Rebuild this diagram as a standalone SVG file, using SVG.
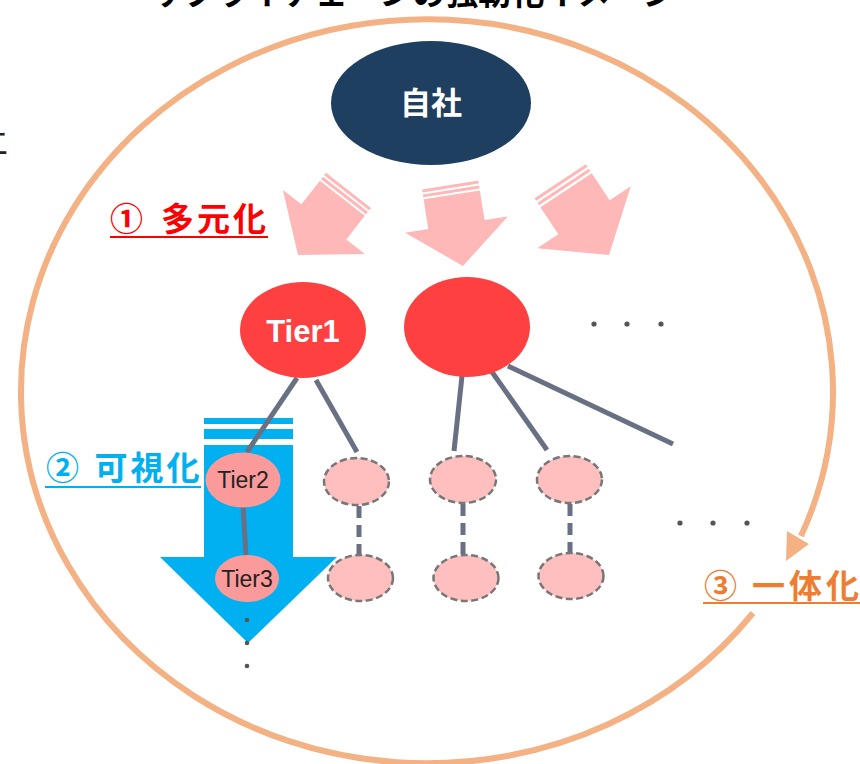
<svg xmlns="http://www.w3.org/2000/svg" width="860" height="764" viewBox="0 0 860 764">
<defs>
<style>
.jp{font-family:"Noto Sans CJK JP","Noto Sans",sans-serif;}
.lat{font-family:"Liberation Sans",Arial,sans-serif;}
.pink{fill:#FFB8B8;}
.conn{stroke:#697083;stroke-width:5;fill:none;}
.dconn{stroke:#697083;stroke-width:5;fill:none;stroke-dasharray:12 7;}
.dnode{fill:#FFBFBF;stroke:#777777;stroke-width:2.5;stroke-dasharray:7 3.5;}
.dot{fill:#555555;}
</style>
<g id="pinkArrowShape">
<polygon points="0,0 -52,-42 -28.5,-42 -28.5,-72 28.5,-72 28.5,-42 52,-42"/>
<rect x="-28.5" y="-77" width="57" height="3"/>
<rect x="-28.5" y="-82" width="57" height="3"/>
</g>
</defs>
<rect width="860" height="764" fill="#FFFFFF"/>

<!-- cut-off title -->
<text class="jp" x="150" y="5" font-size="33" font-weight="bold" fill="#000000">サプライチェーンの強靭化イメージ</text>
<!-- cut-off left fragment -->
<text class="jp" x="9" y="155" font-size="33" text-anchor="end" fill="#222222">エ</text>

<!-- big cycle arc -->
<g id="cycle">
<path d="M 753 613 A 406 372 0 1 1 801 536" fill="none" stroke="#F4B183" stroke-width="6"/>
<polygon points="786,561 809,544 787,531" fill="#F4B183"/>
</g>

<!-- pink arrows -->
<g id="pinkArrows" class="pink">
<use href="#pinkArrowShape" transform="translate(298,255) rotate(38)"/>
<use href="#pinkArrowShape" transform="translate(463,266) rotate(-9)"/>
<use href="#pinkArrowShape" transform="translate(609,255) rotate(-33.5) scale(1.08)"/>
</g>

<!-- blue arrow -->
<g id="blueArrow" fill="#00B0F0">
<rect x="204" y="418" width="89" height="6"/>
<rect x="204" y="429" width="89" height="10"/>
<polygon points="204,445 293,445 293,557 337,557 248,643 160,557 204,557"/>
</g>

<!-- connectors -->
<g id="connectors">
<line class="conn" x1="297" y1="378" x2="247" y2="452"/>
<line class="conn" x1="316" y1="380" x2="357" y2="452"/>
<line class="conn" x1="462" y1="376" x2="454" y2="451"/>
<line class="conn" x1="492" y1="372" x2="547" y2="450"/>
<line class="conn" x1="508" y1="366" x2="673" y2="444"/>
<line class="conn" x1="243" y1="505" x2="246" y2="556"/>
<line class="dconn" x1="359" y1="506" x2="359" y2="556"/>
<line class="dconn" x1="463" y1="504" x2="463" y2="556"/>
<line class="dconn" x1="570" y1="504" x2="570" y2="554"/>
</g>

<g id="jisha">
<ellipse cx="431" cy="103" rx="100" ry="62" fill="#1F3F61"/>
<text class="jp" x="431" y="114" font-size="31" font-weight="bold" fill="#FFFFFF" text-anchor="middle">自社</text>
</g>

<g id="tier1">
<ellipse cx="303" cy="330" rx="63" ry="48" fill="#FF4040"/>
<text class="lat" x="303" y="342" font-size="31" font-weight="bold" fill="#FFFFFF" text-anchor="middle">Tier1</text>
</g>

<g id="tier1b">
<ellipse cx="467" cy="327" rx="63" ry="50" fill="#FF4040"/>
</g>

<g id="dots1">
<circle class="dot" cx="594" cy="324" r="2.6"/>
<circle class="dot" cx="627" cy="324" r="2.6"/>
<circle class="dot" cx="661" cy="324" r="2.6"/>
</g>

<g id="dots2">
<circle class="dot" cx="680" cy="523" r="2.6"/>
<circle class="dot" cx="713" cy="523" r="2.6"/>
<circle class="dot" cx="747" cy="523" r="2.6"/>
</g>

<g id="dots3">
<circle class="dot" cx="247" cy="620" r="2.3"/>
<circle class="dot" cx="247" cy="643" r="2.3"/>
<circle class="dot" cx="247" cy="666" r="2.3"/>
</g>

<g id="tier2">
<ellipse cx="243" cy="480" rx="37.5" ry="27.5" fill="#FA9A9A"/>
<text class="lat" x="243" y="488" font-size="23" fill="#222222" text-anchor="middle">Tier2</text>
</g>

<g id="tier3">
<ellipse cx="247" cy="578.5" rx="32" ry="23.5" fill="#FA9A9A"/>
<text class="lat" x="247" y="587" font-size="23" fill="#222222" text-anchor="middle">Tier3</text>
</g>

<g id="n2a"><ellipse class="dnode" cx="356.5" cy="481.5" rx="32.5" ry="23.5"/></g>
<g id="n2b"><ellipse class="dnode" cx="463" cy="479.5" rx="33" ry="23.5"/></g>
<g id="n2c"><ellipse class="dnode" cx="569.5" cy="479.5" rx="32.5" ry="23.5"/></g>
<g id="n3a"><ellipse class="dnode" cx="360.5" cy="578" rx="32.5" ry="23"/></g>
<g id="n3b"><ellipse class="dnode" cx="466" cy="578" rx="32.5" ry="23"/></g>
<g id="n3c"><ellipse class="dnode" cx="571" cy="576" rx="32.5" ry="23"/></g>

<g id="label1" fill="#FF0000" font-weight="bold">
<text class="jp" x="110" y="231" font-size="33">①</text>
<text class="jp" x="161" y="231" font-size="33" letter-spacing="3">多元化</text>
<rect x="110" y="236" width="158" height="2"/>
</g>

<g id="label2" fill="#00B0F0" font-weight="bold">
<text class="jp" x="46" y="480" font-size="33">②</text>
<text class="jp" x="94.5" y="480" font-size="33" letter-spacing="3">可視化</text>
<rect x="45" y="486" width="156" height="2"/>
</g>

<g id="label3" fill="#ED7D31" font-weight="bold">
<text class="jp" x="704" y="598" font-size="33">③</text>
<text class="jp" x="752" y="598" font-size="33" letter-spacing="4">一体化</text>
<rect x="703" y="602" width="157" height="2"/>
</g>
</svg>
